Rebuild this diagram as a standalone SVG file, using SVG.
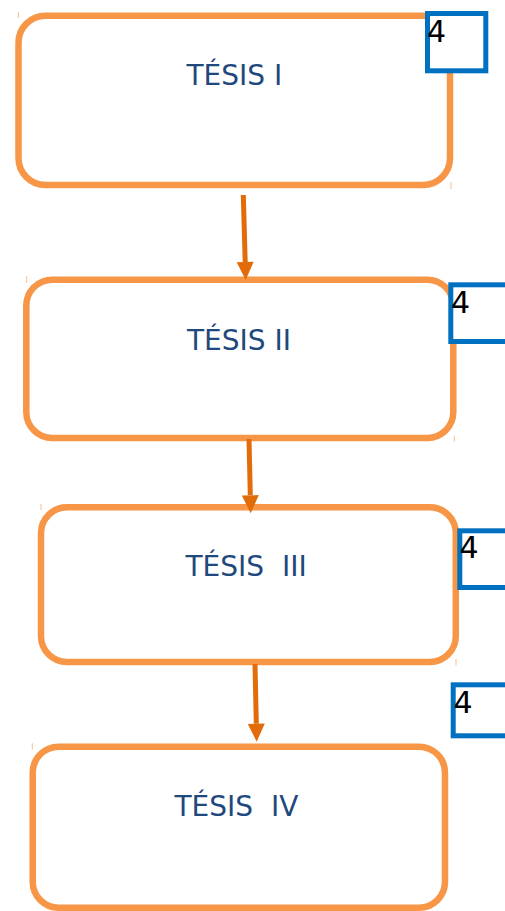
<svg xmlns="http://www.w3.org/2000/svg" width="505" height="911" viewBox="0 0 505 911">
<defs>
<style>
.box{fill:#FFFFFF;stroke:#F79646;stroke-width:6.5}
.tick{stroke:#F79646;stroke-width:1;opacity:0.6}
.lbl{font-family:"DejaVu Sans",Verdana,sans-serif;font-size:28px;fill:#1F497D;white-space:pre}
.num{fill:#FFFFFF;stroke:#0070C0;stroke-width:5}
.numt{font-family:"DejaVu Sans",Verdana,sans-serif;font-size:30px;fill:#000000}
.conn{stroke:#E36C0A;stroke-width:5;fill:none}
</style>
<marker id="ah" markerUnits="userSpaceOnUse" markerWidth="18" markerHeight="17" refX="0" refY="8.5" orient="auto" overflow="visible">
<path d="M0,0 L18,8.5 L0,17 Z" fill="#E36C0A"/>
</marker>
</defs>
<rect width="505" height="911" fill="#FFFFFF"/>
<g id="tesis1">
<rect class="box" x="18.5" y="15.7" width="431.5" height="169.3" rx="27" ry="27"/>
<line class="tick" x1="18.3" y1="12" x2="18.3" y2="18"/>
<line class="tick" x1="451" y1="182" x2="451" y2="189"/>
<text class="lbl" x="186.5" y="84.5">TÉSIS I</text>
</g>
<g id="tesis2">
<rect class="box" x="26.3" y="279.7" width="427" height="158.3" rx="26" ry="26"/>
<line class="tick" x1="26.7" y1="276" x2="26.7" y2="283"/>
<line class="tick" x1="454.3" y1="435.7" x2="454.3" y2="441.7"/>
<text class="lbl" x="187" y="349.5">TÉSIS II</text>
</g>
<g id="tesis3">
<rect class="box" x="41" y="507.3" width="414.8" height="154.7" rx="26" ry="26"/>
<line class="tick" x1="41" y1="504" x2="41" y2="510"/>
<line class="tick" x1="456" y1="659" x2="456" y2="665.7"/>
<text class="lbl" x="185.5" y="576" xml:space="preserve">TÉSIS  III</text>
</g>
<g id="tesis4">
<rect class="box" x="32.7" y="746.7" width="412.3" height="161" rx="26" ry="26"/>
<line class="tick" x1="32.3" y1="743.3" x2="32.3" y2="749.3"/>
<text class="lbl" x="174.5" y="816" xml:space="preserve">TÉSIS  IV</text>
</g>
<g id="num1">
<rect class="num" x="427.5" y="13.5" width="58.3" height="57.3"/>
<text class="numt" x="427" y="41.7">4</text>
</g>
<g id="num2">
<rect class="num" x="450.8" y="284.8" width="58" height="56.7"/>
<text class="numt" x="451" y="312.7">4</text>
</g>
<g id="num3">
<rect class="num" x="459.8" y="530.8" width="58" height="56.7"/>
<text class="numt" x="459.6" y="558.3">4</text>
</g>
<g id="num4">
<rect class="num" x="453.2" y="684.8" width="58" height="51"/>
<text class="numt" x="453.6" y="712.7">4</text>
</g>
<g id="connectors">
<line class="conn" x1="243.3" y1="195" x2="245.2" y2="262" marker-end="url(#ah)"/>
<line class="conn" x1="249" y1="439" x2="250.3" y2="495.3" marker-end="url(#ah)"/>
<line class="conn" x1="255" y1="664" x2="256.3" y2="723.7" marker-end="url(#ah)"/>
</g>
</svg>
